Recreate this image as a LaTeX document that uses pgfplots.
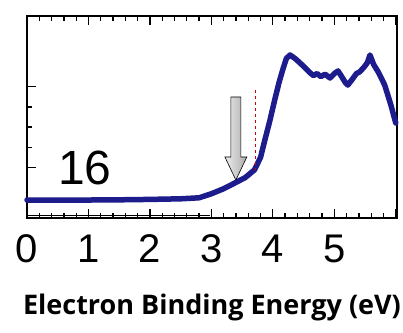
\documentclass[border=0pt]{standalone}
\usepackage{pgfplots}
\pgfplotsset{compat=1.18}
\usepackage{fontspec}
\setmainfont{Liberation Sans}
\newfontfamily\labfont{Open Sans}
\definecolor{curve}{RGB}{28,28,140}
\begin{document}
\begin{tikzpicture}
\begin{axis}[name=ax, scale only axis, width=370pt, height=202pt,
  xmin=0, xmax=6.02, ymin=0, ymax=1,
  axis line style={line width=1.8pt},
  xtick={0,1,2,3,4,5,6}, xticklabels={0,1,2,3,4,5,},
  minor x tick num=4,
  ytick={0.25,0.65}, yticklabels={}, ytick pos=left, minor y tick num=3,
  tick align=inside,
  tickwidth=9pt, subtickwidth=5pt,
  every tick/.style={black, line width=1.3pt},
  /pgf/number format/assume math mode=true,
  xticklabel style={font=\fontsize{40}{40}\selectfont, yshift=-13pt},
  xlabel={\labfont\bfseries Electron Binding Energy (eV)},
  xlabel style={font=\fontsize{27}{27}\selectfont, yshift=-24pt},
  clip=false]
\addplot[curve, line width=5.5pt, line join=round, line cap=round] coordinates {
(0.00,0.089) (0.5,0.088) (1.0,0.089) (1.5,0.090) (2.0,0.092) (2.5,0.095)
(2.8,0.100) (3.0,0.120) (3.2,0.145) (3.38,0.173) (3.55,0.200) (3.70,0.238)
(3.80,0.300) (3.87,0.386) (3.95,0.480) (4.03,0.584) (4.10,0.670) (4.16,0.733)
(4.22,0.790) (4.28,0.807) (4.36,0.790) (4.44,0.768) (4.52,0.745) (4.60,0.720)
(4.66,0.705) (4.72,0.715) (4.78,0.700) (4.85,0.712) (4.93,0.693) (5.00,0.715)
(5.06,0.728) (5.12,0.700) (5.18,0.670) (5.22,0.658) (5.30,0.690) (5.36,0.715)
(5.41,0.723) (5.48,0.745) (5.54,0.770) (5.58,0.807) (5.64,0.760) (5.72,0.720)
(5.82,0.658) (5.92,0.560) (6.00,0.470)};
\draw[red!80!black, dashed, line width=0.9pt] (axis cs:3.71,0.634) -- (axis cs:3.71,0.238);
\draw[black, line width=0.6pt, left color=gray!15, right color=gray!65]
  (axis cs:3.317,0.599) -- (axis cs:3.480,0.599) -- (axis cs:3.480,0.302)
  -- (axis cs:3.577,0.302) -- (axis cs:3.398,0.188) -- (axis cs:3.22,0.302)
  -- (axis cs:3.317,0.302) -- cycle;
\draw[black, line width=0.8pt] (axis cs:0,0.015) -- (axis cs:2.98,0.015);
\node[font=\fontsize{48}{48}\selectfont] at (axis cs:0.94,0.25) {16};
\end{axis}
\pgfresetboundingbox
\path[use as bounding box] ([xshift=-27pt,yshift=-115pt]ax.south west) rectangle ([xshift=6pt,yshift=16pt]ax.north east);
\end{tikzpicture}
\end{document}
